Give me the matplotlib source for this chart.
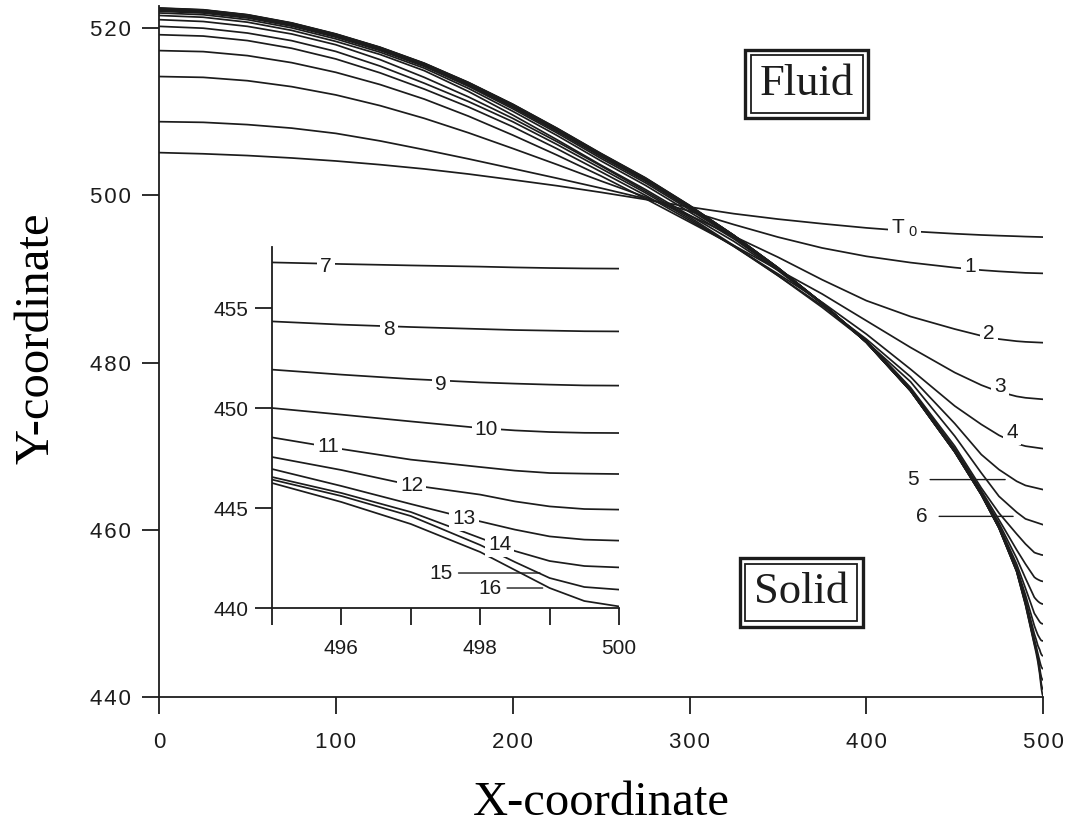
import matplotlib
matplotlib.use('Agg')
import matplotlib.pyplot as plt

plt.rcParams['font.family'] = ['Liberation Sans', 'DejaVu Sans']
plt.rcParams['mathtext.fontset'] = 'custom'
plt.rcParams['mathtext.rm'] = 'Liberation Sans'

# x positions of the read points
x_early = [0, 25, 50, 75, 100, 125, 150, 175, 200, 225, 250, 275, 300, 325, 350,
           375, 400, 425, 450, 465, 475, 485, 490, 500]
x_late = [0, 25, 50, 75, 100, 125, 150, 175, 200, 225, 250, 275, 300, 325, 350,
          375, 400, 425, 450, 465, 475, 485, 490,
          495, 496, 497, 498, 498.5, 499, 499.5, 500]

# interface position at times T0..6 (on x_early)
t0 = [505.1, 504.96, 504.75, 504.46, 504.1, 503.66, 503.15, 502.54, 501.85, 501.14,
      500.35, 499.5, 498.6, 497.8, 497.15, 496.6, 496.1, 495.7, 495.4, 495.25,
      495.17, 495.1, 495.06, 495.0]
t1 = [508.8, 508.72, 508.45, 508.03, 507.4, 506.5, 505.45, 504.35, 503.2, 502.04,
      500.85, 499.6, 498.1, 496.5, 495.0, 493.7, 492.7, 491.95, 491.35, 491.05,
      490.9, 490.78, 490.72, 490.66]
t2 = [514.2, 514.1, 513.7, 512.99, 512.0, 510.72, 509.2, 507.47, 505.6, 503.68,
      501.7, 499.8, 497.6, 495.1, 492.6, 489.9, 487.4, 485.5, 484.0, 483.2,
      482.8, 482.55, 482.47, 482.37]
t3 = [517.3, 517.18, 516.7, 515.86, 514.7, 513.24, 511.5, 509.46, 507.2, 504.81,
      502.3, 499.6, 496.8, 494.0, 491.1, 488.2, 485.0, 481.8, 478.8, 477.3,
      476.5, 475.95, 475.78, 475.6]
t4 = [519.2, 519.04, 518.5, 517.58, 516.3, 514.64, 512.7, 510.56, 508.2, 505.57,
      502.8, 500.0, 497.0, 493.9, 490.6, 487.2, 483.4, 479.2, 474.8, 472.6,
      471.3, 470.3, 470.0, 469.7]
t5 = [520.2, 519.98, 519.4, 518.49, 517.2, 515.45, 513.4, 511.21, 508.8, 506.08,
      503.2, 500.3, 497.2, 493.9, 490.4, 486.8, 482.8, 478.3, 472.7, 469.0,
      467.2, 465.8, 465.3, 464.8]
t6 = [521.0, 520.78, 520.2, 519.29, 518.0, 516.22, 514.1, 511.76, 509.2, 506.42,
      503.5, 500.5, 497.4, 494.0, 490.4, 486.6, 482.5, 477.7, 471.2, 466.8,
      464.0, 462.1, 461.3, 460.6]

# times 7..16 (on x_late)
t7 = [521.5, 521.29, 520.7, 519.72, 518.4, 516.84, 514.9, 512.41, 509.6, 506.65,
      503.6, 500.7, 497.6, 494.5, 491.0, 487.0, 482.6, 477.0, 470.0, 465.0,
      462.0, 459.5, 458.3,
      457.28, 457.2, 457.13, 457.07, 457.03, 457.0, 456.98, 456.97]
t8 = [521.8, 521.59, 521.0, 520.02, 518.7, 517.11, 515.2, 512.78, 510.05, 507.16,
      504.1, 501.2, 498.0, 494.8, 491.1, 487.05, 482.5, 476.85, 469.7, 464.7,
      461.2, 457.6, 455.9,
      454.33, 454.17, 454.05, 453.95, 453.9, 453.87, 453.84, 453.83]
t9 = [522.0, 521.79, 521.2, 520.22, 518.9, 517.31, 515.4, 513.03, 510.35, 507.46,
      504.4, 501.5, 498.28, 494.98, 491.18, 487.08, 482.46, 476.75, 469.55, 464.5,
      460.8, 456.6, 454.2,
      451.92, 451.67, 451.45, 451.28, 451.22, 451.17, 451.13, 451.12]
t10 = [522.1, 521.9, 521.32, 520.34, 519.02, 517.43, 515.52, 513.17, 510.52, 507.64,
       504.6, 501.7, 498.45, 495.08, 491.24, 487.09, 482.44, 476.7, 469.45, 464.38,
       460.55, 455.9, 453.0,
       450.0, 449.67, 449.33, 449.0, 448.88, 448.8, 448.76, 448.75]
t11 = [522.2, 521.99, 521.4, 520.42, 519.1, 517.51, 515.6, 513.27, 510.64, 507.76,
       504.72, 501.82, 498.56, 495.15, 491.28, 487.1, 482.42, 476.66, 469.4, 464.3,
       460.4, 455.5, 452.2,
       448.53, 447.95, 447.42, 447.05, 446.87, 446.75, 446.72, 446.7]
t12 = [522.25, 522.05, 521.46, 520.48, 519.16, 517.57, 515.66, 513.34, 510.72, 507.84,
       504.8, 501.9, 498.64, 495.2, 491.3, 487.1, 482.41, 476.64, 469.36, 464.25,
       460.3, 455.25, 451.7,
       447.55, 446.9, 446.15, 445.67, 445.33, 445.08, 444.95, 444.92]
t13 = [522.3, 522.09, 521.5, 520.52, 519.2, 517.61, 515.7, 513.39, 510.78, 507.9,
       504.87, 501.97, 498.7, 495.22, 491.32, 487.1, 482.4, 476.62, 469.33, 464.22,
       460.25, 455.12, 451.4,
       446.95, 446.1, 445.2, 444.33, 443.92, 443.58, 443.42, 443.37]
t14 = [522.33, 522.13, 521.54, 520.56, 519.24, 517.65, 515.74, 513.44, 510.83, 507.96,
       504.92, 502.02, 498.74, 495.22, 491.33, 487.1, 482.4, 476.61, 469.31, 464.2,
       460.22, 455.06, 451.2,
       446.55, 445.75, 444.8, 443.5, 442.85, 442.35, 442.1, 442.03]
t15 = [522.37, 522.16, 521.57, 520.59, 519.27, 517.68, 515.77, 513.47, 510.87, 508.0,
       504.96, 502.06, 498.77, 495.21, 491.34, 487.1, 482.4, 476.6, 469.3, 464.2,
       460.21, 455.02, 451.08,
       446.42, 445.6, 444.6, 443.15, 442.3, 441.5, 441.05, 440.92]
t16 = [522.4, 522.19, 521.6, 520.62, 519.3, 517.71, 515.8, 513.5, 510.9, 508.03,
       505.0, 502.1, 498.8, 495.2, 491.35, 487.1, 482.4, 476.6, 469.3, 464.2,
       460.2, 455.0, 451.0,
       446.25, 445.3, 444.2, 442.8, 441.9, 441.0, 440.35, 440.08]

early = [t0, t1, t2, t3, t4, t5, t6]
late = [t7, t8, t9, t10, t11, t12, t13, t14, t15, t16]

x_ticks = [0, 100, 200, 300, 400, 500]
y_ticks = [440, 460, 480, 500, 520]
inset_x_ticks = [495, 496, 497, 498, 499, 500]
inset_x_labels = ['', '496', '', '498', '', '500']
inset_y_ticks = [440, 445, 450, 455]

ink = '#1c1c1c'
line_kw = dict(color=ink, lw=1.25)
lab_kw = dict(fontsize=15, ha='center', va='center', color=ink, zorder=5,
              bbox=dict(boxstyle='square,pad=0.15', fc='white', ec='none'))


def spaced(v):
    # tick labels of the original are letter-spaced
    return '\u200a'.join(str(v))


fig = plt.figure(figsize=(10.73, 8.27), dpi=100)
ax = fig.add_axes([0.1482, 0.1572, 0.824, 0.8352])

for y in early:
    ax.plot(x_early, y, **line_kw)
for y in late:
    ax.plot(x_late, y, **line_kw)

ax.set_xlim(0, 500)
ax.set_ylim(440, 522.6)
ax.set_xticks(x_ticks)
ax.set_xticklabels([spaced(v) for v in x_ticks])
ax.set_yticks(y_ticks)
ax.set_yticklabels([spaced(v) for v in y_ticks])
for s in ['top', 'right']:
    ax.spines[s].set_visible(False)
for s in ['left', 'bottom']:
    ax.spines[s].set_linewidth(1.3)
    ax.spines[s].set_color(ink)
ax.tick_params(direction='out', length=12, width=1.3, labelsize=16, colors=ink)
ax.tick_params(axis='x', pad=13)
ax.tick_params(axis='y', pad=8)

ax.set_xlabel('X-coordinate', family='Liberation Serif', fontsize=35)
ax.xaxis.set_label_coords(0.5, -0.122)
ax.set_ylabel('Y-coordinate', family='Liberation Serif', fontsize=35)
ax.yaxis.set_label_coords(-0.114, 0.52)

# curve labels
ax.text(421.5, 496.1, r'T$_{\ 0}$', **lab_kw)
ax.text(458.5, 491.5, '1', **lab_kw)
ax.text(469.5, 483.5, '2', **lab_kw)
ax.text(475.7, 477.1, '3', **lab_kw)
ax.text(482.5, 471.6, '4', **lab_kw)
ax.annotate('5', xy=(478.5, 466.0), xytext=(426.5, 466.0), fontsize=15,
            ha='center', va='center', color=ink,
            arrowprops=dict(arrowstyle='-', lw=1.0, color=ink, shrinkA=6, shrinkB=0))
ax.annotate('6', xy=(483.0, 461.6), xytext=(431.6, 461.6), fontsize=15,
            ha='center', va='center', color=ink,
            arrowprops=dict(arrowstyle='-', lw=1.0, color=ink, shrinkA=6, shrinkB=0))

# Fluid / Solid boxes with double frame
for word, xc, yc in [('Fluid', 366.2, 513.3), ('Solid', 363.2, 452.5)]:
    ax.text(xc, yc, word, family='Liberation Serif', fontsize=32, ha='center',
            va='center', color=ink, zorder=6,
            bbox=dict(boxstyle='square,pad=0.2', fc='white', ec=ink, lw=1.3))
    ax.text(xc, yc, word, family='Liberation Serif', fontsize=32, ha='center',
            va='center', color='none', zorder=5,
            bbox=dict(boxstyle='square,pad=0.32', fc='white', ec=ink, lw=2.4))

# inset: zoom near the right edge
axin = fig.add_axes([0.2535, 0.2648, 0.3234, 0.4365])
for y in early:
    axin.plot(x_early, y, **line_kw)
for y in late:
    axin.plot(x_late, y, **line_kw)
axin.set_xlim(495, 500)
axin.set_ylim(440, 458.05)
axin.set_xticks(inset_x_ticks)
axin.set_xticklabels(inset_x_labels)
axin.set_yticks(inset_y_ticks)
for s in ['top', 'right']:
    axin.spines[s].set_visible(False)
for s in ['left', 'bottom']:
    axin.spines[s].set_linewidth(1.3)
    axin.spines[s].set_color(ink)
axin.tick_params(direction='out', length=12, width=1.3, labelsize=15, colors=ink)
axin.tick_params(axis='x', pad=10)
axin.tick_params(axis='y', pad=5)

inset_labels = [('7', 495.78, 457.08), ('8', 496.69, 453.92), ('9', 497.43, 451.17),
                ('10', 498.09, 448.95), ('11', 495.81, 448.08), ('12', 497.01, 446.13),
                ('13', 497.77, 444.5), ('14', 498.28, 443.17)]
for txt, xl, yl in inset_labels:
    axin.text(xl, yl, txt, **lab_kw)
axin.annotate('15', xy=(498.86, 441.75), xytext=(497.44, 441.75), fontsize=15,
              ha='center', va='center', color=ink,
              arrowprops=dict(arrowstyle='-', lw=1.0, color=ink, shrinkA=2, shrinkB=0))
axin.annotate('16', xy=(498.9, 441.0), xytext=(498.14, 441.0), fontsize=15,
              ha='center', va='center', color=ink,
              arrowprops=dict(arrowstyle='-', lw=1.0, color=ink, shrinkA=2, shrinkB=0))

fig.savefig('out.png', dpi=100, facecolor='white')
